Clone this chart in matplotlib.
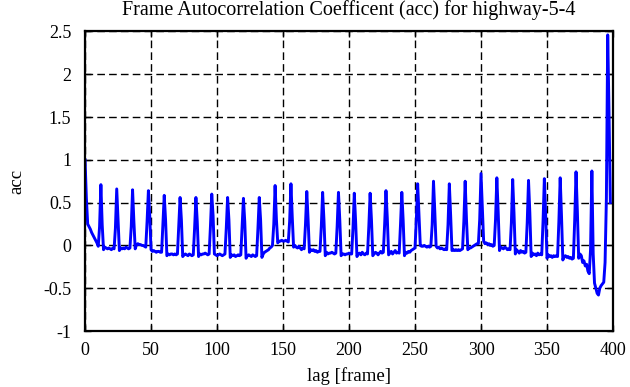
import numpy as np
import matplotlib
matplotlib.use("Agg")
import matplotlib.pyplot as plt

# acc values, one row per 12-frame cycle (lag 0..398)
acc_rows = [
    [1.00, 0.55, 0.25, 0.22, 0.19, 0.15, 0.12, 0.09, 0.06, 0.03, -0.01, 0.22],
    [0.71, 0.24, -0.05, -0.02, -0.03, -0.04, -0.03, -0.04, -0.05, -0.03, -0.04, 0.20],
    [0.66, 0.30, -0.06, -0.03, -0.04, -0.03, -0.04, -0.02, -0.03, -0.04, -0.03, 0.22],
    [0.65, 0.28, -0.04, 0.01, 0.02, 0.01, 0.01, 0.00, 0.00, -0.01, -0.02, 0.28],
    [0.64, 0.35, -0.05, -0.07, -0.06, -0.07, -0.08, -0.07, -0.07, -0.08, -0.08, 0.24],
    [0.585, 0.30, -0.12, -0.10, -0.11, -0.10, -0.10, -0.11, -0.10, -0.11, -0.10, 0.22],
    [0.56, 0.30, -0.13, -0.11, -0.10, -0.11, -0.12, -0.10, -0.11, -0.12, -0.11, 0.20],
    [0.56, 0.28, -0.13, -0.10, -0.11, -0.10, -0.10, -0.09, -0.10, -0.11, -0.10, 0.22],
    [0.60, 0.35, -0.10, -0.11, -0.12, -0.11, -0.10, -0.11, -0.12, -0.11, -0.10, 0.20],
    [0.56, 0.30, -0.14, -0.11, -0.12, -0.11, -0.13, -0.12, -0.11, -0.12, -0.11, 0.22],
    [0.55, 0.28, -0.15, -0.12, -0.11, -0.12, -0.13, -0.11, -0.12, -0.13, -0.12, 0.20],
    [0.56, 0.30, -0.14, -0.10, -0.08, -0.07, -0.06, -0.05, -0.03, -0.02, 0.00, 0.25],
    [0.70, 0.30, 0.03, 0.05, 0.05, 0.06, 0.05, 0.05, 0.06, 0.05, 0.04, 0.28],
    [0.72, 0.33, -0.02, 0.00, -0.02, -0.03, -0.01, -0.03, -0.05, -0.03, -0.04, 0.24],
    [0.63, 0.30, -0.08, -0.05, -0.06, -0.05, -0.07, -0.06, -0.08, -0.07, -0.07, 0.22],
    [0.62, 0.30, -0.12, -0.08, -0.10, -0.09, -0.09, -0.08, -0.09, -0.10, -0.09, 0.22],
    [0.62, 0.30, -0.12, -0.10, -0.10, -0.11, -0.10, -0.10, -0.09, -0.10, -0.10, 0.20],
    [0.61, 0.28, -0.13, -0.10, -0.09, -0.11, -0.08, -0.10, -0.11, -0.09, -0.10, 0.22],
    [0.61, 0.30, -0.12, -0.10, -0.08, -0.09, -0.11, -0.09, -0.07, -0.09, -0.08, 0.25],
    [0.64, 0.32, -0.11, -0.09, -0.07, -0.10, -0.08, -0.06, -0.09, -0.08, -0.09, 0.24],
    [0.62, 0.30, -0.12, -0.08, -0.09, -0.07, -0.08, -0.06, -0.05, -0.04, -0.03, 0.30],
    [0.72, 0.35, 0.00, -0.01, -0.01, 0.00, -0.01, -0.02, -0.01, -0.02, -0.01, 0.24],
    [0.75, 0.39, -0.01, -0.03, -0.02, -0.04, -0.03, -0.04, -0.05, -0.04, -0.05, 0.24],
    [0.72, 0.35, -0.06, -0.05, -0.06, -0.05, -0.06, -0.05, -0.06, -0.05, -0.04, 0.28],
    [0.75, 0.30, -0.05, -0.03, -0.03, -0.02, -0.01, 0.00, 0.01, 0.02, 0.02, 0.30],
    [0.84, 0.45, 0.05, 0.02, 0.03, 0.01, 0.02, 0.00, 0.01, -0.01, 0.00, 0.30],
    [0.79, 0.40, -0.06, -0.02, -0.03, -0.04, -0.02, -0.03, -0.05, -0.04, -0.05, 0.26],
    [0.77, 0.38, -0.10, -0.05, -0.07, -0.09, -0.06, -0.08, -0.07, -0.09, -0.08, 0.26],
    [0.76, 0.38, -0.13, -0.09, -0.11, -0.10, -0.12, -0.09, -0.11, -0.10, -0.11, 0.28],
    [0.78, 0.35, -0.15, -0.11, -0.13, -0.12, -0.14, -0.12, -0.13, -0.12, -0.13, 0.28],
    [0.79, 0.34, -0.17, -0.13, -0.12, -0.14, -0.13, -0.15, -0.14, -0.16, -0.15, 0.30],
    [0.86, 0.40, -0.15, -0.10, -0.12, -0.20, -0.18, -0.24, -0.22, -0.30, -0.33, -0.05],
    [0.87, -0.10, -0.44, -0.50, -0.56, -0.58, -0.50, -0.47, -0.45, -0.43, -0.20, 0.55],
    [2.46, 1.55, 0.50],
]
acc = np.concatenate([np.array(r) for r in acc_rows])
lag = np.arange(len(acc))

xticks = [0, 50, 100, 150, 200, 250, 300, 350, 400]
yticks = [-1, -0.5, 0, 0.5, 1, 1.5, 2, 2.5]
ytick_labels = ["-1", "-0.5", "0", "0.5", "1", "1.5", "2", "2.5"]

plt.rcParams['font.family'] = ['Liberation Serif', 'DejaVu Serif']

fig = plt.figure(figsize=(6.3, 3.87), dpi=100)
ax = fig.add_axes([0.135, 0.1447, 0.838, 0.774])

ax.plot(lag, acc, color='#0000ff', linewidth=2.1)

ax.set_xlim(0, 400)
ax.set_ylim(-1, 2.5)
ax.set_xticks(xticks)
ax.set_yticks(yticks)
ax.set_yticklabels(ytick_labels)
ax.tick_params(direction='in', length=4, width=1, top=True, right=True,
               labelsize=13, pad=8)
ax.tick_params(axis='y', pad=10)
ax.grid(True, color='black', linestyle=(0, (5.5, 3)), linewidth=1.0)
for s in ax.spines.values():
    s.set_linewidth(1.6)

ax.set_title("Frame Autocorrelation Coefficent (acc) for highway-5-4",
             fontsize=14.5, pad=12)
ax.set_xlabel("lag [frame]", fontsize=13.5, labelpad=6)
ax.set_ylabel("acc", fontsize=13.5, labelpad=13)

fig.savefig("out.png", dpi=100)
